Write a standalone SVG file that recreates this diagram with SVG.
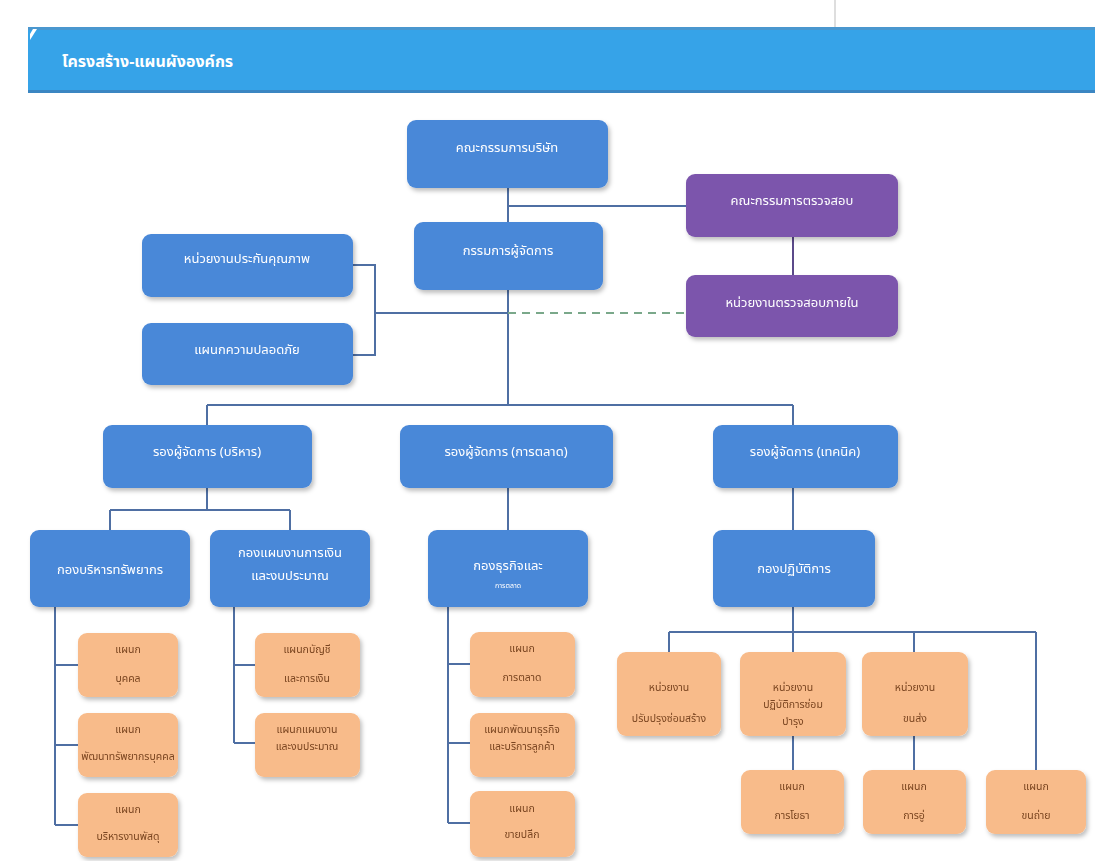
<svg xmlns="http://www.w3.org/2000/svg" width="1102" height="861" viewBox="0 0 1102 861">
<style>
  .t{font-family:"Noto Sans Thai","Noto Sans","DejaVu Sans",sans-serif;text-anchor:middle}
  .bt{fill:#ffffff;font-size:13px}
  .ot{fill:#7a4520;font-size:10.5px}
  .blue{fill:#4a88d8}
  .purple{fill:#7b55ac}
  .orange{fill:#f8bb8a}
  .ln{stroke:#4f6fa3;stroke-width:2;fill:none}
  .pl{stroke:#5b4a8a;stroke-width:2;fill:none}
</style>
<defs>
  <filter id="sh" x="-10%" y="-10%" width="125%" height="130%">
    <feDropShadow dx="2" dy="3" stdDeviation="2" flood-color="#000" flood-opacity="0.25"/>
  </filter>
</defs>
<rect width="1102" height="861" fill="#ffffff"/>
<line x1="835" y1="0" x2="835" y2="28" stroke="#bdbdbd" stroke-width="1"/>
<g id="title">
  <rect x="28" y="27" width="1067" height="66" fill="#36a3e8"/>
  <rect x="28" y="27" width="1067" height="3" fill="#4a97cf"/>
  <rect x="28" y="90" width="1067" height="3" fill="#3b86c2"/>
  <path d="M30 40 L37 29 L33 29 L30 34 Z" fill="#ffffff"/>
  <text x="62" y="67" style="font-family:'Noto Sans Thai','Noto Sans','DejaVu Sans',sans-serif;font-size:16px;font-weight:bold;fill:#ffffff">โครงสร้าง-แผนผังองค์กร</text>
</g>
<g id="connectors">
  <path class="ln" d="M508 188 V405"/>
  <path class="ln" d="M508 206 H686"/>
  <path class="pl" d="M793 237 V275"/>
  <path class="ln" d="M375 313 H508"/>
  <path d="M508 313 H686" stroke="#7aa88a" stroke-width="2" stroke-dasharray="8 6" fill="none"/>
  <path class="ln" d="M353 265 H375 V355 H353"/>
  <path class="ln" d="M207 405 H793 M207 405 V425 M793 405 V425"/>
  <path class="ln" d="M207 488 V510 M110 510 H290 M110 510 V530 M290 510 V530"/>
  <path class="ln" d="M508 488 V530"/>
  <path class="ln" d="M793 488 V530"/>
  <path class="ln" d="M55 607 V825 M55 665 H78 M55 745 H78 M55 825 H78"/>
  <path class="ln" d="M234 607 V743 M234 665 H255 M234 743 H255"/>
  <path class="ln" d="M448 607 V823 M448 664 H470 M448 743 H470 M448 823 H470"/>
  <path class="ln" d="M793 607 V632 M669 632 H1036 M669 632 V652 M793 632 V652 M914 632 V652 M1036 632 V770"/>
  <path class="ln" d="M793 735 V770 M914 735 V770"/>
</g>
<g id="board" filter="url(#sh)"><rect class="blue" x="407" y="120" width="201" height="68" rx="9"/><text class="t bt" x="507" y="152">คณะกรรมการบริษัท</text></g>
<g id="md" filter="url(#sh)"><rect class="blue" x="414" y="222" width="189" height="68" rx="9"/><text class="t bt" x="508" y="255">กรรมการผู้จัดการ</text></g>
<g id="audit-committee" filter="url(#sh)"><rect class="purple" x="686" y="174" width="212" height="63" rx="9"/><text class="t bt" x="792" y="205">คณะกรรมการตรวจสอบ</text></g>
<g id="internal-audit" filter="url(#sh)"><rect class="purple" x="686" y="275" width="212" height="62" rx="9"/><text class="t bt" x="792" y="307">หน่วยงานตรวจสอบภายใน</text></g>
<g id="qa" filter="url(#sh)"><rect class="blue" x="142" y="234" width="211" height="63" rx="9"/><text class="t bt" x="247" y="263">หน่วยงานประกันคุณภาพ</text></g>
<g id="safety" filter="url(#sh)"><rect class="blue" x="142" y="323" width="211" height="62" rx="9"/><text class="t bt" x="247" y="354">แผนกความปลอดภัย</text></g>
<g id="dep-admin" filter="url(#sh)"><rect class="blue" x="103" y="425" width="209" height="63" rx="9"/><text class="t bt" x="207" y="456">รองผู้จัดการ (บริหาร)</text></g>
<g id="dep-marketing" filter="url(#sh)"><rect class="blue" x="400" y="425" width="213" height="63" rx="9"/><text class="t bt" x="506" y="456">รองผู้จัดการ (การตลาด)</text></g>
<g id="dep-tech" filter="url(#sh)"><rect class="blue" x="713" y="425" width="185" height="63" rx="9"/><text class="t bt" x="805" y="456">รองผู้จัดการ (เทคนิค)</text></g>
<g id="div-resources" filter="url(#sh)"><rect class="blue" x="30" y="530" width="160" height="77" rx="9"/><text class="t bt" x="110" y="574">กองบริหารทรัพยากร</text></g>
<g id="div-finance" filter="url(#sh)"><rect class="blue" x="210" y="530" width="160" height="77" rx="9"/><text class="t bt" x="290" y="557">กองแผนงานการเงิน</text><text class="t bt" x="290" y="580">และงบประมาณ</text></g>
<g id="div-business" filter="url(#sh)"><rect class="blue" x="428" y="530" width="160" height="77" rx="9"/><text class="t bt" x="508" y="570">กองธุรกิจและ</text><text class="t bt" x="508" y="588" style="font-size:7px">การตลาด</text></g>
<g id="div-operations" filter="url(#sh)"><rect class="blue" x="713" y="530" width="162" height="77" rx="9"/><text class="t bt" x="794" y="573">กองปฏิบัติการ</text></g>
<g id="o1" filter="url(#sh)"><rect class="orange" x="78" y="633" width="100" height="64" rx="9"/><text class="t ot" x="128" y="653">แผนก</text><text class="t ot" x="128" y="682">บุคคล</text></g>
<g id="o2" filter="url(#sh)"><rect class="orange" x="78" y="713" width="100" height="64" rx="9"/><text class="t ot" x="128" y="733">แผนก</text><text class="t ot" x="128" y="760">พัฒนาทรัพยากรบุคคล</text></g>
<g id="o3" filter="url(#sh)"><rect class="orange" x="78" y="793" width="100" height="64" rx="9"/><text class="t ot" x="128" y="813">แผนก</text><text class="t ot" x="128" y="840">บริหารงานพัสดุ</text></g>
<g id="o4" filter="url(#sh)"><rect class="orange" x="255" y="633" width="105" height="64" rx="9"/><text class="t ot" x="307" y="653">แผนกบัญชี</text><text class="t ot" x="307" y="682">และการเงิน</text></g>
<g id="o5" filter="url(#sh)"><rect class="orange" x="255" y="713" width="105" height="64" rx="9"/><text class="t ot" x="307" y="733">แผนกแผนงาน</text><text class="t ot" x="307" y="750">และงบประมาณ</text></g>
<g id="o6" filter="url(#sh)"><rect class="orange" x="470" y="632" width="105" height="65" rx="9"/><text class="t ot" x="522" y="652">แผนก</text><text class="t ot" x="522" y="681">การตลาด</text></g>
<g id="o7" filter="url(#sh)"><rect class="orange" x="470" y="713" width="105" height="64" rx="9"/><text class="t ot" x="522" y="733">แผนกพัฒนาธุรกิจ</text><text class="t ot" x="522" y="750">และบริการลูกค้า</text></g>
<g id="o8" filter="url(#sh)"><rect class="orange" x="470" y="791" width="105" height="66" rx="9"/><text class="t ot" x="522" y="812">แผนก</text><text class="t ot" x="522" y="838">ขายปลีก</text></g>
<g id="o9" filter="url(#sh)"><rect class="orange" x="617" y="652" width="104" height="84" rx="9"/><text class="t ot" x="669" y="691">หน่วยงาน</text><text class="t ot" x="669" y="722">ปรับปรุงซ่อมสร้าง</text></g>
<g id="o10" filter="url(#sh)"><rect class="orange" x="740" y="652" width="106" height="84" rx="9"/><text class="t ot" x="793" y="691">หน่วยงาน</text><text class="t ot" x="793" y="708">ปฏิบัติการซ่อม</text><text class="t ot" x="793" y="725">บำรุง</text></g>
<g id="o11" filter="url(#sh)"><rect class="orange" x="862" y="652" width="106" height="84" rx="9"/><text class="t ot" x="915" y="691">หน่วยงาน</text><text class="t ot" x="915" y="722">ขนส่ง</text></g>
<g id="o12" filter="url(#sh)"><rect class="orange" x="741" y="770" width="103" height="64" rx="9"/><text class="t ot" x="792" y="790">แผนก</text><text class="t ot" x="792" y="819">การโยธา</text></g>
<g id="o13" filter="url(#sh)"><rect class="orange" x="863" y="770" width="103" height="64" rx="9"/><text class="t ot" x="914" y="790">แผนก</text><text class="t ot" x="914" y="819">การอู่</text></g>
<g id="o14" filter="url(#sh)"><rect class="orange" x="986" y="770" width="100" height="64" rx="9"/><text class="t ot" x="1036" y="790">แผนก</text><text class="t ot" x="1036" y="819">ขนถ่าย</text></g>
</svg>
